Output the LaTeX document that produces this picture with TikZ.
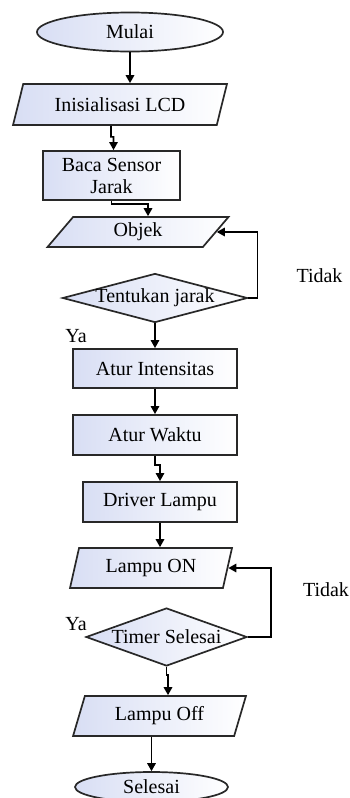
\documentclass[tikz,border=0pt]{standalone}
\usepackage{fontspec}
\setmainfont{Liberation Serif}
\usetikzlibrary{shapes.geometric,arrows.meta}

\definecolor{linec}{RGB}{40,40,40}
\definecolor{boxl}{RGB}{216,222,244}
\newcommand{\fcclap}[1]{\makebox[0pt]{#1}}

\begin{document}
\begin{tikzpicture}[x=1pt,y=1pt,yscale=-1,
  every node/.style={font=\fontsize{20}{22}\selectfont},
  terminal/.style={ellipse,draw=linec,line width=1.7,left color=boxl,right color=white,inner sep=0pt},
  process/.style={rectangle,draw=linec,line width=1.9,left color=boxl,right color=white,inner sep=0pt,align=center},
  io/.style={trapezium,trapezium left angle=#1,trapezium right angle={180-#1},trapezium stretches=true,
    draw=linec,line width=1.7,left color=boxl,right color=white,inner sep=0pt},
  decision/.style={diamond,draw=linec,line width=1.7,left color=boxl,right color=white,inner sep=0pt},
  arr/.style={draw=black,line width=1.6,-{Triangle[length=8pt,width=8.5pt]}},
  lbl/.style={inner sep=0pt}]
\useasboundingbox (0,0) rectangle (350,798);
\clip (0,0) rectangle (350,798);

%Shape: Ellipse
\node[terminal,minimum width=186,minimum height=39] (mulai) at (130,32) {Mulai};
%Shape: Parallelogram
\node[io=64,minimum width=214,minimum height=41] (init) at (120,104.5) {Inisialisasi LCD};
%Shape: Rectangle
\node[process,minimum width=137,minimum height=49] (baca) at (111.5,175.5) {Baca Sensor\\Jarak};
%Shape: Parallelogram
\node[io=62,minimum width=182,minimum height=30] (objek) at (138,232) {Objek};
%Shape: Diamond
\node[decision,minimum width=185,minimum height=49] (tentu) at (155,298) {\fcclap{Tentukan jarak}};
%Shape: Rectangle
\node[process,minimum width=164,minimum height=39] (intens) at (155,368.5) {Atur Intensitas};
\node[process,minimum width=164,minimum height=40] (waktu) at (155,435) {Atur Waktu};
\node[process,minimum width=154,minimum height=40] (driver) at (160,502) {Driver Lampu};
%Shape: Parallelogram
\node[io=72,minimum width=162,minimum height=40] (lampon) at (151,568) {Lampu ON};
%Shape: Diamond
\node[decision,minimum width=161,minimum height=58] (timer) at (166.5,637) {\fcclap{Timer Selesai}};
%Shape: Parallelogram
\node[io=69,minimum width=173,minimum height=40] (lampoff) at (159.5,716) {Lampu Off};
%Shape: Ellipse
\node[terminal,minimum width=153,minimum height=30] (selesai) at (151.5,787) {Selesai};

%Straight Lines
\draw[arr] (mulai.south) -- (mulai.south |- init.north);
\draw[arr] ([xshift=-9pt]init.south) -- ++(0,11) -- ++(2.5,0) -- ([xshift=2pt]baca.north);
\draw[arr] (baca.south) -- ++(0,3) -| ([xshift=10pt]objek.north);
\draw[arr] (tentu.east) -- ++(9,0) |- (objek.east);
\draw[arr] (tentu.south) -- (intens.north);
\draw[arr] (intens.south) -- (waktu.north);
\draw[arr] (waktu.south) -- ++(0,9) -| (driver.north);
\draw[arr] (driver.south) -- (driver.south |- lampon.north);
\draw[arr] (timer.east) -- ++(23,0) |- (lampon.east);
\draw[arr] (timer.south) -- ++(0,8) -| ([xshift=8.5pt]lampoff.north);
\draw[arr] (lampoff.south -| selesai.north) -- (selesai.north);

% Text Node
\node[lbl] (tidak1) at (319.5,276) {Tidak};
% Text Node
\node[lbl] (ya1) at (76,336) {Ya};
% Text Node
\node[lbl] (tidak2) at (326,590) {Tidak};
% Text Node
\node[lbl] (ya2) at (76,624) {Ya};

\end{tikzpicture}
\end{document}
